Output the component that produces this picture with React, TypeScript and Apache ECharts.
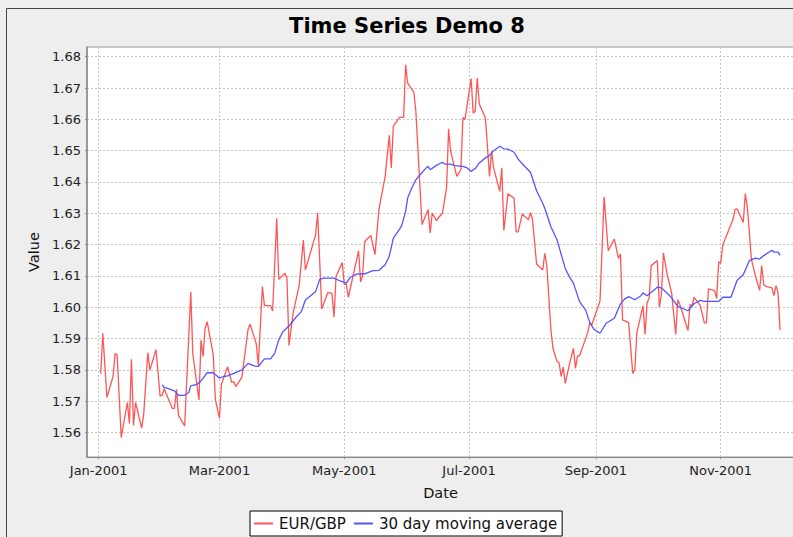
import React, { useEffect, useRef } from "react";
import * as echarts from "echarts";

// Day offsets are days since 1 Jan 2001.
const eurGbp: [number, number][] = [
  [1,1.5788],[2,1.5917],[4,1.5712],[7,1.5779],[8,1.5852],[9,1.5848],[11,1.5584],[14,1.5696],[15,1.5629],[16,1.5834],[17,1.5623],[18,1.5696],[21,1.5614],[22,1.5659],[24,1.5855],[25,1.5799],[28,1.5865],[30,1.5717],[31,1.5719],[32,1.5740],[36,1.5677],[37,1.5677],[38,1.5738],[39,1.5655],[42,1.5621],[45,1.6049],[46,1.5850],[49,1.5704],[50,1.5895],[51,1.5843],[52,1.5933],[53,1.5954],[56,1.5847],[57,1.5706],[59,1.5646],[60,1.5754],[63,1.5810],[65,1.5760],[66,1.5763],[67,1.5747],[70,1.5777],[73,1.5930],[74,1.5946],[77,1.5883],[78,1.5816],[80,1.6066],[81,1.6005],[84,1.6005],[85,1.5988],[87,1.6284],[88,1.6089],[91,1.6109],[92,1.6093],[93,1.5878],[95,1.5981],[98,1.6071],[100,1.6215],[101,1.6119],[106,1.6231],[107,1.6302],[109,1.5995],[112,1.6047],[114,1.6045],[115,1.5968],[116,1.6098],[119,1.6143],[120,1.6073],[121,1.6073],[122,1.6032],[127,1.6180],[128,1.6081],[129,1.6103],[130,1.6210],[133,1.6229],[135,1.6168],[137,1.6315],[140,1.6418],[142,1.6549],[143,1.6445],[144,1.6578],[147,1.6606],[149,1.6606],[150,1.6774],[151,1.6716],[154,1.6687],[155,1.6626],[158,1.6264],[161,1.6312],[162,1.6237],[163,1.6301],[165,1.6277],[168,1.6301],[170,1.6381],[171,1.6570],[172,1.6498],[175,1.6418],[177,1.6439],[178,1.6606],[179,1.6599],[182,1.6730],[183,1.6620],[184,1.6626],[185,1.6732],[186,1.6649],[189,1.6604],[191,1.6418],[192,1.6498],[193,1.6445],[196,1.6370],[197,1.6445],[198,1.6245],[200,1.6362],[203,1.6348],[204,1.6241],[205,1.6241],[207,1.6298],[210,1.6279],[211,1.6302],[212,1.6281],[214,1.6138],[217,1.6119],[218,1.6172],[219,1.6132],[221,1.5928],[222,1.5869],[224,1.5827],[225,1.5823],[226,1.5779],[227,1.5809],[228,1.5757],[230,1.5816],[232,1.5869],[233,1.5805],[234,1.5845],[235,1.5845],[239,1.5919],[240,1.5951],[241,1.5944],[245,1.6020],[247,1.6353],[249,1.6181],[252,1.6218],[254,1.6156],[255,1.6170],[256,1.5960],[259,1.5951],[261,1.5789],[262,1.5800],[263,1.5918],[266,1.6005],[267,1.5913],[268,1.6014],[269,1.6030],[270,1.6133],[273,1.6149],[274,1.6001],[275,1.6040],[276,1.6173],[278,1.6099],[280,1.6046],[282,1.5913],[283,1.6024],[284,1.6009],[288,1.5926],[289,1.6009],[290,1.6005],[291,1.6032],[294,1.6005],[296,1.5950],[297,1.5950],[298,1.6059],[301,1.6053],[302,1.6028],[303,1.6145],[304,1.6141],[305,1.6200],[310,1.6280],[311,1.6312],[312,1.6314],[315,1.6271],[316,1.6363],[317,1.6320],[319,1.6152],[321,1.6099],[323,1.6054],[324,1.6133],[325,1.6072],[326,1.6067],[329,1.6062],[330,1.6037],[331,1.6069],[332,1.6046],[333,1.5927]
];

const movingAverage: [number, number][] = [
  [31,1.5752],[32,1.5744],[34,1.5740],[37,1.5733],[39,1.5719],[42,1.5719],[44,1.5728],[45,1.5749],[48,1.5754],[50,1.5765],[53,1.5791],[56,1.5791],[59,1.5774],[61,1.5779],[63,1.5781],[66,1.5789],[70,1.5800],[73,1.5821],[76,1.5813],[78,1.5811],[81,1.5835],[84,1.5835],[86,1.5853],[88,1.5896],[90,1.5922],[93,1.5940],[96,1.5965],[99,1.5986],[101,1.6023],[104,1.6039],[106,1.6050],[108,1.6089],[110,1.6093],[115,1.6093],[118,1.6084],[121,1.6077],[123,1.6096],[126,1.6106],[130,1.6107],[134,1.6117],[137,1.6118],[140,1.6136],[142,1.6163],[144,1.6221],[148,1.6259],[150,1.6306],[151,1.6349],[153,1.6381],[155,1.6407],[156,1.6415],[160,1.6445],[161,1.6450],[162,1.6439],[165,1.6453],[168,1.6463],[169,1.6457],[172,1.6457],[174,1.6452],[178,1.6450],[180,1.6445],[182,1.6434],[184,1.6443],[186,1.6461],[189,1.6477],[191,1.6485],[193,1.6500],[196,1.6514],[198,1.6506],[200,1.6505],[203,1.6495],[205,1.6473],[208,1.6451],[211,1.6431],[214,1.6372],[217,1.6332],[218,1.6316],[221,1.6257],[224,1.6215],[228,1.6124],[230,1.6098],[232,1.6077],[235,1.6018],[238,1.5991],[240,1.5951],[242,1.5930],[245,1.5917],[248,1.5949],[252,1.5965],[255,1.6011],[257,1.6026],[259,1.6034],[262,1.6024],[265,1.6037],[266,1.6046],[268,1.6037],[273,1.6064],[275,1.6062],[278,1.6044],[280,1.6030],[283,1.6003],[288,1.5989],[291,1.6012],[294,1.6022],[296,1.6019],[303,1.6019],[305,1.6032],[309,1.6032],[312,1.6086],[315,1.6104],[318,1.6149],[321,1.6157],[323,1.6154],[325,1.6165],[329,1.6182],[330,1.6176],[332,1.6176],[333,1.6166]
];

const monthTickLabels = ["Jan-2001", "Mar-2001", "May-2001", "Jul-2001", "Sep-2001", "Nov-2001"];
const monthTickIndex = [0, 2, 4, 6, 8, 10];
const valueTicks = [1.56, 1.57, 1.58, 1.59, 1.6, 1.61, 1.62, 1.63, 1.64, 1.65, 1.66, 1.67, 1.68];

const DAY = 86400000;
const base = Date.UTC(2001, 0, 1);
const monthTickDays = monthTickIndex.map((m) => Math.round((Date.UTC(2001, m, 1) - base) / DAY));

export default function App() {
  const ref = useRef<HTMLDivElement>(null);
  useEffect(() => {
    if (!ref.current) return;
    const chart = echarts.init(ref.current, null, { renderer: "svg" });
    const font = "DejaVu Sans";
    chart.setOption({
      animation: false,
      backgroundColor: "#EEEEEE",
      title: {
        text: "Time Series Demo 8",
        left: 407,
        top: 15,
        textAlign: "center",
        padding: 0,
        textStyle: { fontFamily: font, fontWeight: "bold", fontSize: 21, color: "#000" },
      },
      graphic: [
        {
          type: "rect",
          silent: true,
          shape: { x: 6.5, y: 8.5, width: 801, height: 600 },
          style: { fill: "none", stroke: "#444", lineWidth: 1 },
        },
      ],
      legend: {
        left: 250,
        top: 511,
        orient: "horizontal",
        padding: [5, 5, 5, 4],
        itemGap: 8,
        itemWidth: 19,
        itemHeight: 2,
        borderColor: "#000",
        borderWidth: 1,
        backgroundColor: "#FFFFFF",
        textStyle: { fontFamily: font, fontSize: 15, color: "#111", padding: [0, 0, 0, 1] },
        data: [
          { name: "EUR/GBP", icon: "rect" },
          { name: "30 day moving average", icon: "rect" },
        ],
      },
      grid: {
        left: 87,
        top: 47,
        width: 707,
        height: 410,
        show: true,
        backgroundColor: "#FFFFFF",
        borderColor: "#999",
        borderWidth: 1,
        outerBoundsMode: "none",
      },
      xAxis: {
        type: "value",
        min: -5.72,
        max: 339.8,
        name: "Date",
        nameLocation: "middle",
        nameGap: 28,
        nameTextStyle: { fontFamily: font, fontSize: 14.5, color: "#111" },
        axisLine: { show: true, onZero: false, lineStyle: { color: "#888", width: 1 } },
        axisTick: { show: true, length: 2, lineStyle: { color: "#888" }, customValues: monthTickDays },
        axisLabel: {
          fontFamily: font,
          fontSize: 13,
          color: "#222",
          margin: 7,
          customValues: monthTickDays,
          formatter: (v: number) => {
            const i = monthTickDays.indexOf(Math.round(v));
            return i >= 0 ? monthTickLabels[i] : "";
          },
        },
        splitLine: { show: true, lineStyle: { color: "#C4C4C4", width: 1, type: [2, 2] } },
      },
      yAxis: {
        type: "value",
        min: 1.5522,
        max: 1.6831,
        name: "Value",
        nameLocation: "middle",
        nameGap: 44,
        nameTextStyle: { fontFamily: font, fontSize: 14.5, color: "#111" },
        axisLine: { show: true, onZero: false, lineStyle: { color: "#888", width: 1.5 } },
        axisTick: { show: true, length: 2, lineStyle: { color: "#888" }, customValues: valueTicks },
        axisLabel: {
          fontFamily: font,
          fontSize: 13,
          color: "#222",
          margin: 6,
          customValues: valueTicks,
          formatter: (v: number) => v.toFixed(2),
        },
        splitLine: { show: true, lineStyle: { color: "#C4C4C4", width: 1, type: [2, 2] } },
      },
      series: [
        {
          name: "EUR/GBP",
          type: "line",
          data: eurGbp,
          symbol: "none",
          color: "#FF5555",
          lineStyle: { color: "#FF5555", width: 1.3 },
        },
        {
          name: "30 day moving average",
          type: "line",
          data: movingAverage,
          symbol: "none",
          color: "#5555FF",
          lineStyle: { color: "#5555FF", width: 1.3 },
        },
      ],
    });
    return () => chart.dispose();
  }, []);
  return (
    <div
      style={{
        position: "fixed",
        left: 0,
        top: 0,
        width: 793,
        height: 537,
        overflow: "hidden",
        background: "#EEEEEE",
      }}
    >
      <div ref={ref} style={{ width: 810, height: 560 }} />
    </div>
  );
}
